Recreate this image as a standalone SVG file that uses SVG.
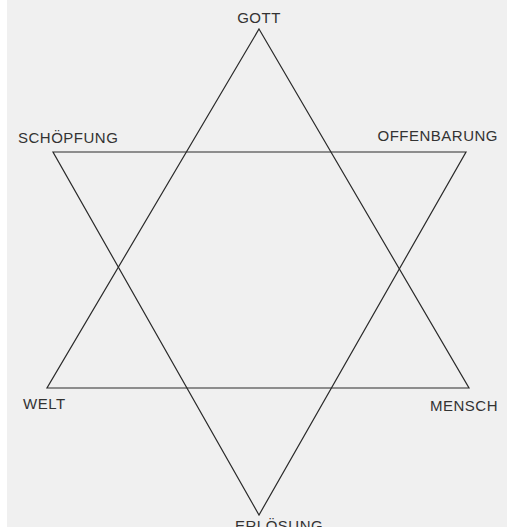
<svg xmlns="http://www.w3.org/2000/svg" width="507" height="527" viewBox="0 0 507 527">
<style>
.t{font-family:"Liberation Sans",Arial,sans-serif;font-size:15px;fill:#333;letter-spacing:0.5px}
.l{fill:none;stroke:#2a2a2a;stroke-width:1.2;stroke-linejoin:miter}
</style>
<rect x="0" y="0" width="507" height="527" fill="#ffffff"/>
<rect x="7" y="0" width="500" height="527" fill="#f0f0f0"/>
<g id="connectors">
<polygon class="l" points="259,29 469,388 47,388"/>
<polygon class="l" points="53,152 466,152 259,515"/>
</g>
<g id="gott"><text class="t" x="259" y="23" text-anchor="middle">GOTT</text></g>
<g id="schoepfung"><text class="t" x="18" y="143">SCHÖPFUNG</text></g>
<g id="offenbarung"><text class="t" x="498" y="141" text-anchor="end">OFFENBARUNG</text></g>
<g id="welt"><text class="t" x="23" y="409">WELT</text></g>
<g id="mensch"><text class="t" x="498" y="411" text-anchor="end">MENSCH</text></g>
<g id="erloesung"><text class="t" x="235" y="531">ERLÖSUNG</text></g>
</svg>
